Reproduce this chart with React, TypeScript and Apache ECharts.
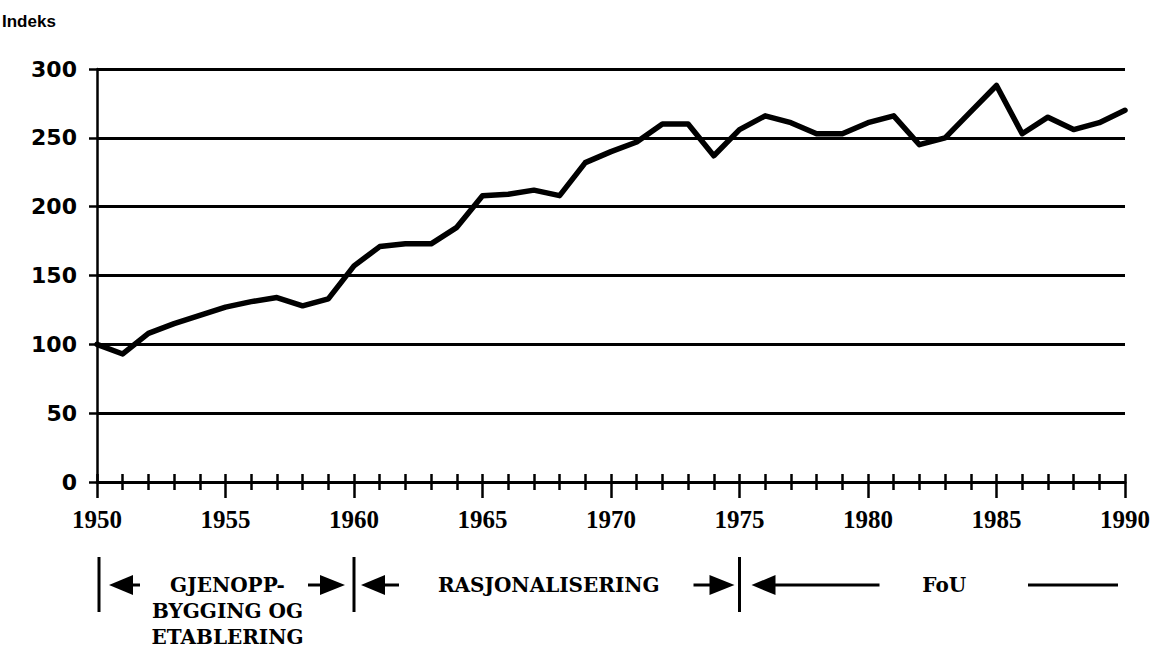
import React, { useEffect, useRef } from "react";
import * as echarts from "echarts";

const years = [
  1950, 1951, 1952, 1953, 1954, 1955, 1956, 1957, 1958, 1959,
  1960, 1961, 1962, 1963, 1964, 1965, 1966, 1967, 1968, 1969,
  1970, 1971, 1972, 1973, 1974, 1975, 1976, 1977, 1978, 1979,
  1980, 1981, 1982, 1983, 1984, 1985, 1986, 1987, 1988, 1989, 1990,
];
const indexValues = [
  100, 93, 108, 115, 121, 127, 131, 134, 128, 133,
  157, 171, 173, 173, 185, 208, 209, 212, 208, 232,
  240, 247, 260, 260, 237, 256, 266, 261, 253, 253,
  261, 266, 245, 250, 269, 288, 253, 265, 256, 261, 270,
];
const phaseBounds = [1950, 1960, 1975, 1990];
const phaseLabels = ["GJENOPP-\nBYGGING OG\nETABLERING", "RASJONALISERING", "FoU"];
const yAxisTitle = "Indeks";

export default function App() {
  const ref = useRef<HTMLDivElement>(null);
  useEffect(() => {
    const chart = echarts.init(ref.current!, null, { renderer: "svg" });
    const black = "#000";
    const option: any = {
      animation: false,
      backgroundColor: "#fff",
      title: {
        text: yAxisTitle,
        left: 2,
        top: 13,
        padding: 0,
        textStyle: { fontFamily: "Liberation Sans", fontWeight: "bold", fontSize: 17, color: black },
      },
      grid: { left: 97, right: 24, top: 69, bottom: 181 },
      xAxis: [
        {
          type: "value",
          min: 1950,
          max: 1990,
          interval: 5,
          position: "bottom",
          axisLine: { show: true, onZero: false, lineStyle: { color: black, width: 3 } },
          axisTick: { show: true, length: 16, lineStyle: { color: black, width: 2.5 } },
          minorTick: { show: true, splitNumber: 5, length: 8, lineStyle: { color: black, width: 2.5 } },
          splitLine: { show: false },
          axisLabel: {
            margin: 25,
            color: black,
            fontFamily: "Liberation Serif",
            fontWeight: "bold",
            fontSize: 25,
            formatter: (v: number) => String(v),
          },
        },
        {
          type: "value",
          min: 1950,
          max: 1990,
          interval: 5,
          position: "bottom",
          axisLine: { show: false, onZero: false },
          axisTick: { show: true, inside: true, length: 8, lineStyle: { color: black, width: 2.5 } },
          minorTick: { show: true, splitNumber: 5, length: 8, lineStyle: { color: black, width: 2.5 } },
          splitLine: { show: false },
          axisLabel: { show: false },
        },
      ],
      yAxis: {
        type: "value",
        min: 0,
        max: 300,
        interval: 50,
        axisLine: { show: true, lineStyle: { color: black, width: 2.5 } },
        axisTick: { show: true, length: 8, lineStyle: { color: black, width: 2.5 } },
        splitLine: { show: true, lineStyle: { color: black, width: 3 } },
        axisLabel: {
          margin: 20,
          color: black,
          fontFamily: "DejaVu Sans",
          fontWeight: "bold",
          fontSize: 22,
        },
      },
      series: [
        {
          type: "line",
          xAxisIndex: 0,
          data: years.map((y, i) => [y, indexValues[i]]),
          showSymbol: false,
          symbol: "none",
          lineStyle: { color: black, width: 5.5, join: "round", cap: "round" },
          z: 5,
        },
      ],
    };
    chart.setOption(option);

    const px = (v: number) => chart.convertToPixel({ xAxisIndex: 0 }, v) as number;
    const base = chart.convertToPixel({ yAxisIndex: 0 }, 0) as number;
    const ay = base + 103;
    const barTop = base + 75;
    const barBot = base + 130;
    const b = phaseBounds.map(px);
    const lw = 3;
    const font = { fontFamily: "DejaVu Serif", fontWeight: "bold", fontSize: 20, fill: black } as any;

    const leftArrow = (tip: number, tailEnd: number, len = 24, h = 10) => [
      { type: "polygon", shape: { points: [[tip, ay], [tip + len, ay - h], [tip + len, ay + h]] }, style: { fill: black } },
      { type: "line", shape: { x1: tip + len - 2, y1: ay, x2: tailEnd, y2: ay }, style: { stroke: black, lineWidth: lw } },
    ];
    const rightArrow = (tip: number, tailStart: number, len = 25, h = 10) => [
      { type: "polygon", shape: { points: [[tip, ay], [tip - len, ay - h], [tip - len, ay + h]] }, style: { fill: black } },
      { type: "line", shape: { x1: tailStart, y1: ay, x2: tip - len + 2, y2: ay }, style: { stroke: black, lineWidth: lw } },
    ];
    const bar = (x: number) => ({
      type: "line",
      shape: { x1: x, y1: barTop, x2: x, y2: barBot },
      style: { stroke: black, lineWidth: lw },
    });

    const elements: any[] = [
      bar(b[0] + 2),
      bar(b[1]),
      bar(b[2]),
      ...leftArrow(b[0] + 12, b[0] + 43),
      ...rightArrow(b[1] - 9, b[1] - 46),
      ...leftArrow(b[1] + 7, b[1] + 45),
      ...rightArrow(b[2] - 5, b[2] - 46),
      ...leftArrow(b[2] + 12, b[2] + 140),
      { type: "line", shape: { x1: b[3] - 97, y1: ay, x2: b[3] - 7, y2: ay }, style: { stroke: black, lineWidth: lw } },
      {
        type: "text",
        x: (b[0] + b[1]) / 2 + 2,
        y: ay - 13,
        style: { ...font, text: phaseLabels[0], align: "center", verticalAlign: "top", lineHeight: 26 },
      },
      {
        type: "text",
        x: (b[1] + b[2]) / 2 + 2,
        y: ay,
        style: { ...font, text: phaseLabels[1], align: "center", verticalAlign: "middle" },
      },
      {
        type: "text",
        x: (b[2] + b[3]) / 2 + 12,
        y: ay,
        style: { ...font, text: phaseLabels[2], align: "center", verticalAlign: "middle" },
      },
    ];
    chart.setOption({ graphic: { elements } });

    return () => chart.dispose();
  }, []);
  return (
    <div
      ref={ref}
      style={{ position: "fixed", left: 0, top: 0, width: 1153, height: 663, background: "#fff" }}
    />
  );
}
